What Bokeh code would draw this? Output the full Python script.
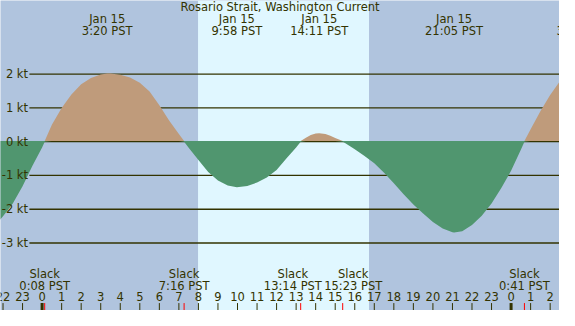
from bokeh.plotting import figure
from bokeh.models import Range1d, BoxAnnotation
from bokeh.core.properties import value
from bokeh.embed import file_html
from bokeh.resources import INLINE
import numpy as np

# ---------------- data (hours from midnight Jan 15, PST) ----------------
hours = [-2.2, -2.0, -1.5, -1.0, -0.5, 0.0, 0.133, 0.5, 1.0, 1.5, 2.0, 2.5, 3.0,
         3.333, 3.5, 4.0, 4.5, 5.0, 5.5, 6.0, 6.5, 7.0, 7.267, 7.5, 8.0, 8.5,
         9.0, 9.5, 9.967, 10.5, 11.0, 11.5, 12.0, 12.5, 13.0, 13.233, 13.5,
         13.75, 14.0, 14.183, 14.5, 14.75, 15.0, 15.383, 15.5, 16.0, 16.5, 17.0,
         17.5, 18.0, 18.5, 19.0, 19.5, 20.0, 20.5, 21.0, 21.083, 21.5, 22.0,
         22.5, 23.0, 23.5, 24.0, 24.5, 24.683, 25.0, 25.5, 26.0, 26.5, 26.7]
speed_kt = [-2.34, -2.21, -1.83, -1.32, -0.72, -0.17, 0.0, 0.50, 1.00, 1.40, 1.70, 1.89, 1.99,
            2.02, 2.02, 1.98, 1.90, 1.75, 1.49, 1.08, 0.63, 0.23, 0.0, -0.18, -0.54, -0.90,
            -1.15, -1.30, -1.35, -1.31, -1.21, -1.06, -0.84, -0.50, -0.17, 0.0, 0.12,
            0.20, 0.24, 0.25, 0.23, 0.18, 0.11, 0.0, -0.04, -0.22, -0.42, -0.64,
            -0.92, -1.23, -1.56, -1.86, -2.13, -2.38, -2.57, -2.68, -2.69, -2.65, -2.47,
            -2.19, -1.83, -1.37, -0.86, -0.24, 0.0, 0.37, 0.90, 1.38, 1.79, 1.92]

title = "Rosario Strait, Washington Current"

extreme_hours = [3.333, 9.967, 14.183, 21.083]
extreme_dates = ["Jan 15", "Jan 15", "Jan 15", "Jan 15"]
extreme_times = ["3:20 PST", "9:58 PST", "14:11 PST", "21:05 PST"]
next_extreme_hour = 27.62
next_extreme_time = "3:37 PST"

slack_hours = [0.133, 7.267, 13.233, 15.383, 24.683]
slack_times = ["0:08 PST", "7:16 PST", "13:14 PST", "15:23 PST", "0:41 PST"]

sunrise = 7.98
sunset = 16.73

kt_levels = [2, 1, 0, -1, -2, -3]
kt_labels = ["2 kt", "1 kt", "0 kt", "-1 kt", "-2 kt", "-3 kt"]

tick_hours = list(range(-2, 27))
tick_labels = ["22", "23", "0", "1", "2", "3", "4", "5", "6", "7", "8", "9", "10", "11",
               "12", "13", "14", "15", "16", "17", "18", "19", "20", "21", "22", "23",
               "0", "1", "2"]
midnights = [0, 24]

# ---------------- styling ----------------
NIGHT = "#b0c4de"
DAY = "#e0f7ff"
FLOOD = "#bf9b7b"
EBB = "#50966f"
INK = "#333300"
FONT = value("DejaVu Sans")
FS = "11.5px"

X0, X1 = -2.129, 26.478
Y0, Y1 = -5.0, 4.183

# label nudges (hours) so that neighbouring slack labels do not overlap
slack_label_shift = [0.0, 0.0, -0.40, 0.54, 0.0]
slack_label_x = [s + d for s, d in zip(slack_hours, slack_label_shift)]

p = figure(width=559, height=310, x_range=Range1d(X0, X1), y_range=Range1d(Y0, Y1),
           output_backend="svg", toolbar_location=None, min_border=0)
p.xaxis.visible = False
p.yaxis.visible = False
p.xgrid.visible = False
p.ygrid.visible = False
p.outline_line_color = None
p.background_fill_color = NIGHT
p.border_fill_color = NIGHT

p.add_layout(BoxAnnotation(left=sunrise, right=sunset, fill_color=DAY, fill_alpha=1.0,
                           line_color=None, level="underlay"))

# horizontal kt grid lines
grid_x0 = -0.65
p.segment(x0=[grid_x0] * len(kt_levels), x1=[X1 + 1] * len(kt_levels),
          y0=kt_levels, y1=kt_levels, line_color=INK, line_width=1.3)

# current fills
h = np.array(hours)
v = np.array(speed_kt)
off = 0.022
p.varea(x=h, y1=np.full(len(h), off), y2=np.minimum(v, off), fill_color=EBB)
p.varea(x=h, y1=np.full(len(h), off), y2=np.maximum(v, off), fill_color=FLOOD)

# kt labels
p.text(x=[-0.72] * len(kt_levels), y=kt_levels, text=kt_labels, text_align="right",
       text_baseline="middle", text_font=FONT, text_font_size=FS, text_color=INK)

# title
p.text(x=[(X0 + X1) / 2], y=[3.99], text=[title], text_align="center", text_baseline="middle",
       text_font=FONT, text_font_size=FS, text_color=INK)

# extreme labels
p.text(x=extreme_hours, y=[3.64] * len(extreme_hours), text=extreme_dates, text_align="center",
       text_baseline="middle", text_font=FONT, text_font_size=FS, text_color=INK)
p.text(x=extreme_hours + [next_extreme_hour], y=[3.29] * (len(extreme_hours) + 1),
       text=extreme_times + [next_extreme_time], text_align="center",
       text_baseline="middle", text_font=FONT, text_font_size=FS, text_color=INK)

# slack labels
p.text(x=slack_label_x, y=[-3.91] * len(slack_hours), text=["Slack"] * len(slack_hours),
       text_align="center", text_baseline="middle", text_font=FONT, text_font_size=FS,
       text_color=INK)
p.text(x=slack_label_x, y=[-4.27] * len(slack_hours), text=slack_times, text_align="center",
       text_baseline="middle", text_font=FONT, text_font_size=FS, text_color=INK)

# hour labels and ticks
p.text(x=tick_hours, y=[-4.60] * len(tick_hours), text=tick_labels, text_align="center",
       text_baseline="middle", text_font=FONT, text_font_size=FS, text_color=INK)
p.segment(x0=tick_hours, x1=tick_hours, y0=[-4.78] * len(tick_hours), y1=[Y0] * len(tick_hours),
          line_color=INK, line_width=1)
p.segment(x0=midnights, x1=midnights, y0=[-4.78] * 2, y1=[Y0] * 2, line_color=INK, line_width=3)
p.segment(x0=slack_hours, x1=slack_hours, y0=[-4.78] * len(slack_hours),
          y1=[Y0] * len(slack_hours), line_color="red", line_width=1)

open("out.html", "w").write(file_html(p, INLINE))
